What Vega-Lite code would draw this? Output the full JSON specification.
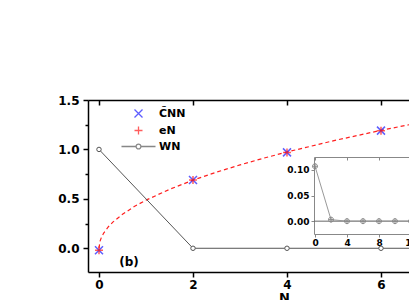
{
  "$schema": "https://vega.github.io/schema/vega-lite/v6.json",
  "padding": {"left": 57, "top": 94, "right": 0, "bottom": 0},
  "background": "white",
  "width": 322,
  "height": 172,
  "config": {
    "view": {"stroke": null},
    "font": "DejaVu Sans",
    "axis": {"grid": false, "labelColor": "black", "domainColor": "black", "tickColor": "black", "labelFont": "DejaVu Sans", "labelFontWeight": "bold", "titleFont": "DejaVu Sans", "titleFontWeight": "bold", "titleColor": "black", "domainWidth": 1.5, "tickWidth": 1.5, "labelFlush": false}
  },
  "datasets": {
    "curve": [
      {"N": 0, "v": 0}, {"N": 0.02, "v": 0.069}, {"N": 0.05, "v": 0.109}, {"N": 0.1, "v": 0.154},
      {"N": 0.2, "v": 0.218}, {"N": 0.3, "v": 0.267}, {"N": 0.5, "v": 0.344}, {"N": 0.75, "v": 0.422},
      {"N": 1, "v": 0.487}, {"N": 1.5, "v": 0.596}, {"N": 2, "v": 0.689}, {"N": 2.5, "v": 0.77},
      {"N": 3, "v": 0.843}, {"N": 3.5, "v": 0.911}, {"N": 4, "v": 0.974}, {"N": 5, "v": 1.089},
      {"N": 6, "v": 1.193}, {"N": 7, "v": 1.288}, {"N": 8, "v": 1.377}
    ],
    "pts": [
      {"s": "C\u0303NN", "N": 0, "v": -0.02}, {"s": "C\u0303NN", "N": 2, "v": 0.69}, {"s": "C\u0303NN", "N": 4, "v": 0.97}, {"s": "C\u0303NN", "N": 6, "v": 1.19}, {"s": "C\u0303NN", "N": 8, "v": 1.38},
      {"s": "eN", "N": 0, "v": -0.02}, {"s": "eN", "N": 2, "v": 0.69}, {"s": "eN", "N": 4, "v": 0.97}, {"s": "eN", "N": 6, "v": 1.19}, {"s": "eN", "N": 8, "v": 1.38}
    ],
    "w": [
      {"N": 0, "v": 1.0}, {"N": 2, "v": 0}, {"N": 4, "v": 0}, {"N": 6, "v": 0}, {"N": 8, "v": 0}
    ],
    "inset": [
      {"N": 0, "v": 0.107}, {"N": 2, "v": 0.003}, {"N": 4, "v": 0}, {"N": 6, "v": 0}, {"N": 8, "v": 0}, {"N": 10, "v": 0}, {"N": 12, "v": 0}
    ]
  },
  "resolve": {"scale": {"x": "independent", "y": "independent"}, "axis": {"x": "independent", "y": "independent"}},
  "layer": [
    {
      "data": {"name": "curve"},
      "mark": {"type": "line", "color": "#ff2020", "strokeWidth": 1.2, "strokeDash": [4, 3], "clip": true},
      "encoding": {
        "x": {"field": "N", "type": "quantitative", "scale": {"domain": [-0.234, 6.617], "nice": false, "zero": false},
              "axis": {"orient": "bottom", "values": [0, 2, 4, 6], "format": "d", "tickSize": 5, "labelFontSize": 12, "labelPadding": 2, "title": "N", "titleX": 196, "titlePadding": 1, "titleFontSize": 13}},
        "y": {"field": "v", "type": "quantitative", "scale": {"domain": [-0.24, 1.5], "nice": false, "zero": false},
              "axis": {"orient": "left", "values": [0, 0.5, 1, 1.5], "format": ".1f", "tickSize": 5, "labelFontSize": 12, "labelPadding": 4, "title": null}}
      }
    },
    {
      "data": {"name": "w"},
      "mark": {"type": "line", "color": "#555555", "strokeWidth": 1, "clip": true,
               "point": {"filled": false, "fill": "white", "size": 20, "color": "#555555", "strokeWidth": 1}},
      "encoding": {
        "x": {"field": "N", "type": "quantitative", "scale": {"domain": [-0.234, 6.617], "nice": false, "zero": false},
              "axis": {"orient": "top", "values": [0, 2, 4, 6], "labels": false, "tickSize": -5, "title": null}},
        "y": {"field": "v", "type": "quantitative", "scale": {"domain": [-0.24, 1.5], "nice": false, "zero": false},
              "axis": {"orient": "left", "values": [0.25, 0.75, 1.25], "labels": false, "domain": false, "tickSize": 3, "title": null}}
      }
    },
    {
      "data": {"name": "pts"},
      "mark": {"type": "point", "filled": false, "size": 64, "strokeWidth": 1.5, "clip": true},
      "encoding": {
        "x": {"field": "N", "type": "quantitative", "scale": {"domain": [-0.234, 6.617], "nice": false, "zero": false}, "axis": null},
        "y": {"field": "v", "type": "quantitative", "scale": {"domain": [-0.24, 1.5], "nice": false, "zero": false}, "axis": null},
        "color": {"field": "s", "type": "nominal",
                  "scale": {"domain": ["C\u0303NN", "eN", "WN"], "range": ["#1a1aff", "#ff1a1a", "#555555"]},
                  "legend": {"orient": "none", "legendX": 45, "legendY": 8, "title": null, "symbolSize": 64, "symbolStrokeWidth": 1.3, "labelFont": "DejaVu Sans", "labelFontWeight": "bold", "labelFontSize": 11, "labelColor": "black", "labelOffset": 15, "rowPadding": 2, "padding": 0}},
        "shape": {"field": "s", "type": "nominal",
                  "scale": {"domain": ["C\u0303NN", "eN", "WN"], "range": ["M-1,-1L1,1M-1,1L1,-1", "M-1,0L1,0M0,-1L0,1", "M-4.25,0L-0.6,0M0.6,0L4.25,0M-0.6,0A0.6,0.6,0,1,1,0.6,0A0.6,0.6,0,1,1,-0.6,0"]},
                  "legend": {"orient": "none", "legendX": 45, "legendY": 8, "title": null, "symbolSize": 64, "symbolStrokeWidth": 1.3, "labelFont": "DejaVu Sans", "labelFontWeight": "bold", "labelFontSize": 11, "labelColor": "black", "labelOffset": 15, "rowPadding": 2, "padding": 0}}
      }
    },
    {
      "data": {"values": [{}]},
      "mark": {"type": "text", "font": "DejaVu Sans", "fontWeight": "bold", "fontSize": 12, "color": "black"},
      "encoding": {
        "x": {"datum": 0.64, "type": "quantitative", "scale": {"domain": [-0.234, 6.617], "nice": false, "zero": false}, "axis": null},
        "y": {"datum": -0.14, "type": "quantitative", "scale": {"domain": [-0.24, 1.5], "nice": false, "zero": false}, "axis": null},
        "text": {"value": "(b)"}
      }
    },
    {
      "data": {"values": [{}]},
      "mark": {"type": "rule", "color": "#666666", "strokeWidth": 1},
      "encoding": {
        "x": {"datum": -0.125, "type": "quantitative", "scale": {"domain": [-0.125, 12], "range": [226, 323], "nice": false, "zero": false}, "axis": null},
        "x2": {"datum": 12},
        "y": {"datum": 0, "type": "quantitative", "scale": {"domain": [-0.025, 0.125], "range": [134, 57], "nice": false, "zero": false}, "axis": null}
      }
    },
    {
      "data": {"name": "inset"},
      "mark": {"type": "line", "color": "#999999", "strokeWidth": 1,
               "point": {"filled": false, "size": 25, "color": "#888888", "strokeWidth": 1, "shape": "M-1,0A1,1,0,1,1,1,0A1,1,0,1,1,-1,0M-1,0L1,0M0,-1L0,1"}},
      "encoding": {
        "x": {"field": "N", "type": "quantitative", "scale": {"domain": [-0.125, 12], "range": [226, 323], "nice": false, "zero": false},
              "axis": {"orient": "bottom", "offset": -38, "values": [0, 4, 8, 12], "format": "d", "tickSize": 3, "labelFontSize": 9, "labelPadding": 1, "labelFlush": false, "labelBound": false, "domainColor": "#888888", "tickColor": "#888888", "domainWidth": 1, "tickWidth": 1, "title": null}},
        "y": {"field": "v", "type": "quantitative", "scale": {"domain": [-0.025, 0.125], "range": [134, 57], "nice": false, "zero": false},
              "axis": {"orient": "left", "offset": -226, "values": [0, 0.05, 0.1], "format": ".2f", "tickSize": 3, "labelFontSize": 9, "labelPadding": 2, "domainColor": "#888888", "tickColor": "#888888", "domainWidth": 1, "tickWidth": 1, "title": null}}
      }
    },
    {
      "data": {"name": "inset"},
      "mark": {"type": "point", "opacity": 0},
      "encoding": {
        "x": {"field": "N", "type": "quantitative", "scale": {"domain": [-0.125, 12], "range": [226, 323], "nice": false, "zero": false},
              "axis": {"orient": "top", "offset": -57, "values": [0, 4, 8, 12], "labels": false, "tickSize": -3, "domainColor": "#888888", "tickColor": "#888888", "domainWidth": 1, "tickWidth": 1, "title": null}},
        "y": {"field": "v", "type": "quantitative", "scale": {"domain": [-0.025, 0.125], "range": [134, 57], "nice": false, "zero": false}, "axis": null}
      }
    }
  ]
}
